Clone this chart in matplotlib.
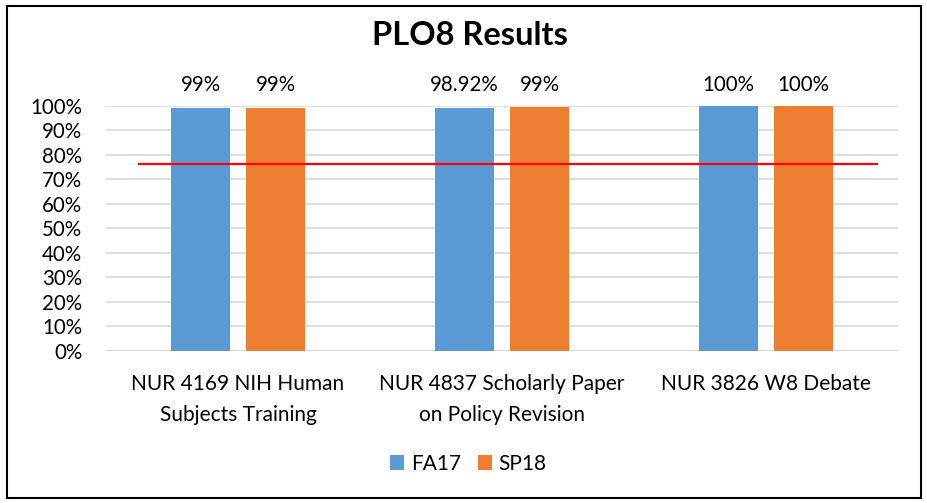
import numpy as np
import matplotlib
matplotlib.use("Agg")
import matplotlib.pyplot as plt
from matplotlib.patches import Rectangle
from matplotlib.ticker import PercentFormatter

# data
categories = ["NUR 4169 NIH Human\nSubjects Training",
              "NUR 4837 Scholarly Paper\non Policy Revision",
              "NUR 3826 W8 Debate"]
fa17 = [0.99, 0.9892, 1.00]
sp18 = [0.99, 0.994, 1.00]
fa17_labels = ["99%", "98.92%", "100%"]
sp18_labels = ["99%", "99%", "100%"]
target = 0.76

plt.rcParams['font.family'] = ['Lato', 'DejaVu Sans']

blue = '#5B9BD5'
orange = '#ED7D31'

fig = plt.figure(figsize=(9.27, 5.03), dpi=100)
ax = fig.add_axes([0.1143, 0.3028, 0.8544, 0.4871])

x = np.arange(len(categories))
w = 0.224
off = 0.142
ax.bar(x - off, fa17, w, color=blue, label='FA17', zorder=2)
ax.bar(x + off, sp18, w, color=orange, label='SP18', zorder=2)

# data labels, all on one line above the plot
for i in range(len(categories)):
    ax.text(x[i] - off, 1.061, fa17_labels[i], ha='center', va='baseline',
            fontsize=14.8, clip_on=False)
    ax.text(x[i] + off, 1.061, sp18_labels[i], ha='center', va='baseline',
            fontsize=14.8, clip_on=False)

# target line
ax.hlines(target, -0.379, 2.424, color='red', lw=1.6, zorder=3)

ax.set_xlim(-0.5, 2.5)
ax.set_ylim(0, 1.0)
ax.set_yticks(np.arange(0, 1.01, 0.1))
ax.yaxis.set_major_formatter(PercentFormatter(1.0, decimals=0))
ax.grid(axis='y', color='#D9D9D9', lw=1.2, zorder=0)
ax.set_axisbelow(True)
for s in ax.spines.values():
    s.set_visible(False)
ax.tick_params(axis='y', length=0, pad=17, labelsize=14.8)
ax.tick_params(axis='x', length=0, pad=17, labelsize=15)
ax.set_xticks(x)
ax.set_xticklabels(categories, linespacing=1.65)
ax.axhline(0, color='#D9D9D9', lw=1.2, zorder=1)

fig.text(0.507, 0.9105, "PLO8 Results", ha='center', va='baseline',
         fontsize=23.5, fontweight='bold')

fig.legend(loc='center', bbox_to_anchor=(0.505, 0.0775), ncol=2, frameon=False,
           fontsize=15, handlelength=0.7, handleheight=0.7, handletextpad=0.3,
           columnspacing=0.8)

# chart border
fig.patches.append(Rectangle((0.0075, 0.01), 0.986, 0.978, transform=fig.transFigure,
                             fill=False, edgecolor='black', lw=1.5))

fig.savefig('out.png', dpi=100)
